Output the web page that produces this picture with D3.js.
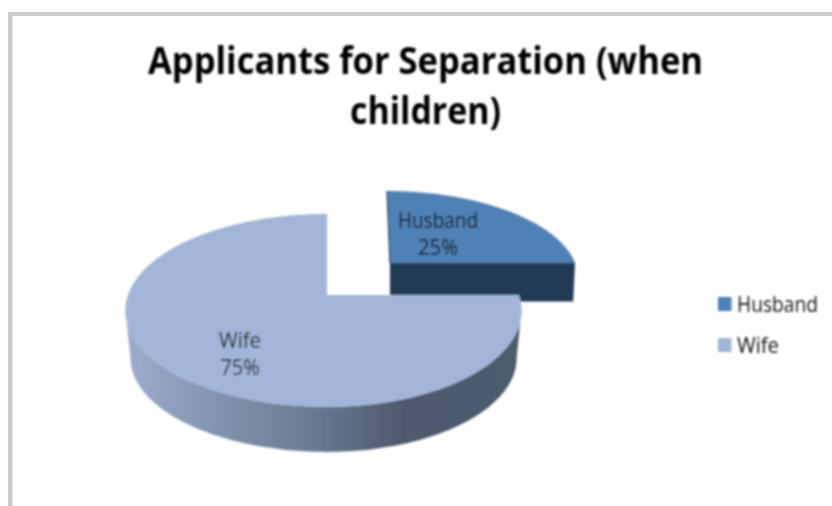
<!DOCTYPE html>
<html><head><meta charset="utf-8">
<script src="https://cdn.jsdelivr.net/npm/d3@7/dist/d3.min.js"></script>
<style>html,body{margin:0;padding:0;background:#fff;overflow:hidden}svg{display:block}text{font-family:"Open Sans",sans-serif}</style>
</head><body><svg id="c" width="832" height="506"></svg>
<script>
const categories = ["Husband", "Wife"];
const values = [25, 75];
const titleLines = ["Applicants for Separation (when", "children)"];
const colors = ["#4f81b5", "#a1b5d8"];
const sideColor = "#233a54";

const svg = d3.select("#c");
const defs = svg.append("defs");
defs.append("filter").attr("id","soft").attr("x","-5%").attr("y","-5%").attr("width","110%").attr("height","110%")
  .append("feGaussianBlur").attr("stdDeviation",0.8);
const grad = defs.append("linearGradient").attr("id","wall").attr("gradientUnits","userSpaceOnUse")
  .attr("x1",128).attr("x2",520).attr("y1",0).attr("y2",0);
[[0,"#9cadc9"],[0.2,"#8496b2"],[0.45,"#6c7c95"],[0.7,"#4e5a6e"],[1,"#4b5b6b"]].forEach(s=>
  grad.append("stop").attr("offset",s[0]).attr("stop-color",s[1]));

// frame
const frame = svg.append("g").attr("fill","none").attr("stroke","#cbcbcb");
frame.append("line").attr("x1",10.3).attr("x2",10.3).attr("y1",12).attr("y2",506).attr("stroke-width",4.5);
frame.append("line").attr("x1",8).attr("x2",832).attr("y1",14).attr("y2",14).attr("stroke-width",4);

const g = svg.append("g").attr("filter","url(#soft)");

// perspective projection of the pie disc
const p = -0.16;
function projector(o){
  return function(a, r=1, lower=false){
    const u = Math.sin(a)*r, v = -Math.cos(a)*r;
    const w = 1 + p*v;
    const R = u < 0 ? o.rl : o.rr;
    const k = lower ? o.scale : 1;
    return [o.x + k*(R*u/w + (o.shear||0)*v), o.y + k*o.k*v/w + (lower ? o.depth : 0)];
  };
}
const wifeP = projector({x:327,y:295,rl:199,rr:192,k:94,depth:47.8,scale:0.975});
const husbP = projector({x:390,y:263,rl:185,rr:185,k:83.5,depth:38.5,scale:0.99,shear:3});

const slices = d3.pie().sort(null).value(d=>d)(values);
const line = d3.line();
const sample = (a0,a1,n=120)=>d3.range(n+1).map(i=>a0+(a1-a0)*i/n);

// Husband slice (exploded)
const hs = slices[0];
const hWall = [husbP(hs.endAngle,0), husbP(hs.endAngle), husbP(hs.endAngle,1,true), husbP(hs.endAngle,0,true)];
g.append("path").attr("d",line(hWall)+"Z").attr("fill",sideColor);
const hTop = [husbP(0,0), ...sample(hs.startAngle,hs.endAngle).map(a=>husbP(a))];
g.append("path").attr("d",line(hTop)+"Z").attr("fill",colors[0]);
g.append("path").attr("d",line([husbP(0,0),husbP(0)])).attr("stroke",sideColor).attr("stroke-width",1.2).attr("fill","none");

// Wife slice: side wall runs between the rim's silhouette tangents
const ws = slices[1];
const tangent = Math.asin(-p);
const front = sample(ws.startAngle + tangent, Math.PI*1.5 - tangent);
const wall = [...front.map(a=>wifeP(a)), ...front.slice().reverse().map(a=>wifeP(a,1,true))];
g.append("path").attr("d",line(wall)+"Z").attr("fill","url(#wall)");
const wTop = [wifeP(0,0), ...sample(ws.startAngle,ws.endAngle,240).map(a=>wifeP(a))];
g.append("path").attr("d",line(wTop)+"Z").attr("fill",colors[1]);

// Title
const titleLayout = [{x:425.5,y:74,w:555},{x:425.5,y:124,w:151}];
g.selectAll(".t").data(titleLines).join("text")
  .attr("text-anchor","middle").attr("x",(d,i)=>titleLayout[i].x).attr("y",(d,i)=>titleLayout[i].y)
  .attr("textLength",(d,i)=>titleLayout[i].w).attr("lengthAdjust","spacingAndGlyphs")
  .attr("font-size",38).attr("font-weight",700).attr("fill","#000").text(d=>d);

// Data labels
const labelLayout = [{x:438,y:228,w:80,pw:40},{x:240,y:348,w:42,pw:39}];
categories.forEach((c,i)=>{
  const l = labelLayout[i];
  const pct = Math.round(100*values[i]/d3.sum(values))+"%";
  g.append("text").attr("text-anchor","middle").attr("x",l.x).attr("y",l.y).attr("font-size",21).attr("fill","#0d0d0d")
    .attr("textLength",l.w).attr("lengthAdjust","spacingAndGlyphs").text(c);
  g.append("text").attr("text-anchor","middle").attr("x",l.x).attr("y",l.y+27).attr("font-size",21).attr("fill","#0d0d0d")
    .attr("textLength",l.pw).attr("lengthAdjust","spacingAndGlyphs").text(pct);
});

// Legend
const legY = d3.scalePoint().domain(categories).range([304,345]);
const legW = [81,42];
categories.forEach((c,i)=>{
  g.append("rect").attr("x",718).attr("y",legY(c)-7).attr("width",13.5).attr("height",14).attr("fill",colors[i]);
  g.append("text").attr("x",737).attr("y",legY(c)+8).attr("font-size",21).attr("fill","#151515")
    .attr("textLength",legW[i]).attr("lengthAdjust","spacingAndGlyphs").text(c);
});
</script></body></html>
